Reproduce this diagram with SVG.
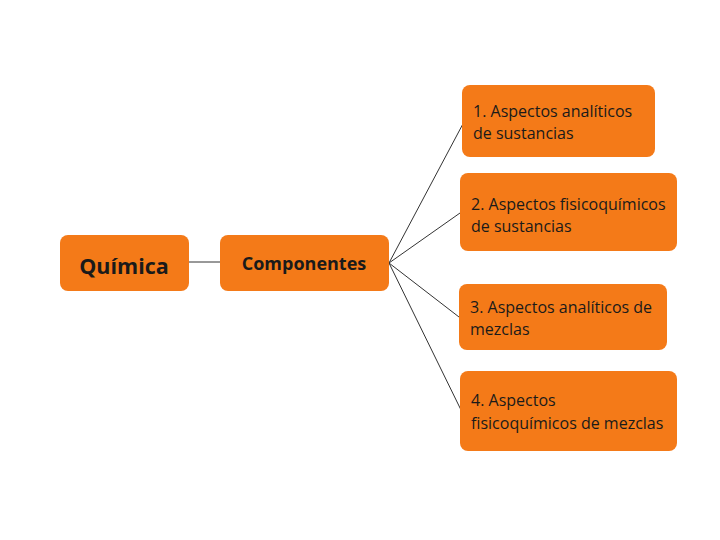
<svg xmlns="http://www.w3.org/2000/svg" width="720" height="540" viewBox="0 0 720 540">
<style>
.box{fill:#F47A18;}
.t{font-family:"Open Sans","Liberation Sans",sans-serif;font-size:16px;fill:#1a1a1a;}
.b{font-family:"Open Sans","Liberation Sans",sans-serif;font-weight:bold;fill:#1a1a1a;}
.c{stroke:#333;stroke-width:1;fill:none;}
</style>
<rect width="720" height="540" fill="#fff"/>
<g id="connectors">
<line class="c" x1="189" y1="262" x2="220" y2="262"/>
<line class="c" x1="389" y1="263" x2="465" y2="120"/>
<line class="c" x1="389" y1="263" x2="460" y2="213"/>
<line class="c" x1="389" y1="263" x2="459" y2="317"/>
<line class="c" x1="389" y1="263" x2="462" y2="412"/>
</g>
<g id="quimica">
<rect class="box" x="60" y="235" width="129" height="56" rx="8"/>
<text class="b" x="124" y="274" font-size="21.5" text-anchor="middle">Química</text>
</g>
<g id="componentes">
<rect class="box" x="220" y="235" width="169" height="56" rx="8"/>
<text class="b" x="304" y="270" font-size="18" text-anchor="middle">Componentes</text>
</g>
<g id="n1">
<rect class="box" x="462" y="85" width="193" height="72" rx="8"/>
<text class="t" x="473" y="117">1. Aspectos analíticos</text>
<text class="t" x="473" y="139">de sustancias</text>
</g>
<g id="n2">
<rect class="box" x="460" y="173" width="217" height="78" rx="8"/>
<text class="t" x="471" y="210">2. Aspectos fisicoquímicos</text>
<text class="t" x="471" y="232">de sustancias</text>
</g>
<g id="n3">
<rect class="box" x="459" y="284" width="208" height="66" rx="8"/>
<text class="t" x="470" y="313">3. Aspectos analíticos de</text>
<text class="t" x="470" y="335">mezclas</text>
</g>
<g id="n4">
<rect class="box" x="460" y="371" width="217" height="80" rx="8"/>
<text class="t" x="471" y="406">4. Aspectos</text>
<text class="t" x="471" y="429">fisicoquímicos de mezclas</text>
</g>
</svg>
